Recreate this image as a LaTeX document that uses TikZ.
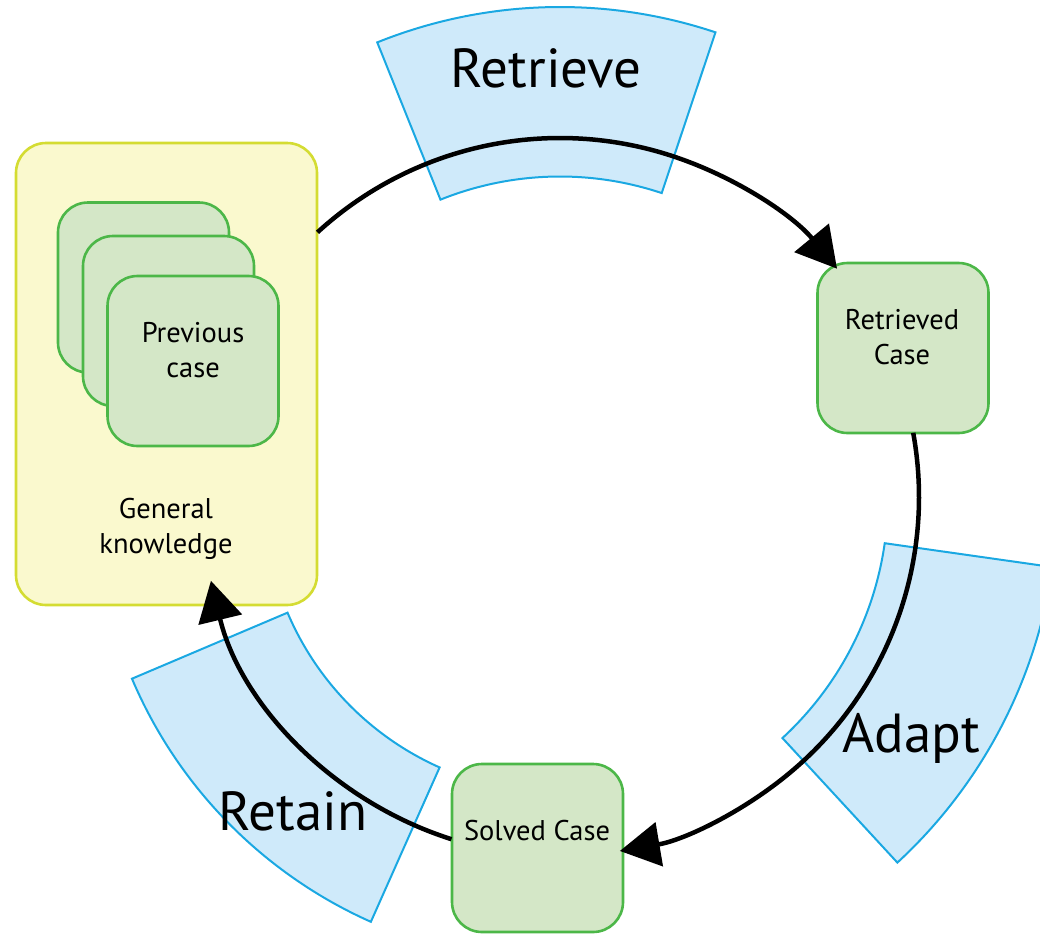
\documentclass[tikz,border=0pt]{standalone}
\usepackage{fontspec}
\setmainfont{PT Sans}
\usetikzlibrary{arrows.meta,calc}
\definecolor{bandfill}{RGB}{207,234,250}
\definecolor{banddraw}{RGB}{26,168,226}
\definecolor{casefill}{RGB}{212,231,199}
\definecolor{casedraw}{RGB}{76,183,72}
\definecolor{gkfill}{RGB}{250,249,206}
\definecolor{gkdraw}{RGB}{212,220,50}
\begin{document}
\begin{tikzpicture}[x=1pt,y=1pt,
  band/.style={fill=bandfill,draw=banddraw,line width=2pt,line join=miter},
  casebox/.style={draw=casedraw,fill=casefill,line width=2.6pt,rounded corners=30pt,
    minimum width=171pt,minimum height=170pt,inner sep=0pt},
  gkbox/.style={draw=gkdraw,fill=gkfill,line width=2.6pt,rounded corners=30pt,
    minimum width=301pt,minimum height=462pt,inner sep=0pt},
  flow/.style={line width=4.5pt,-{Triangle[length=40pt,width=44pt]}},
  biglabel/.style={font=\fontsize{55}{62}\selectfont,anchor=base,inner sep=0pt},
  smalllabel/.style={font=\fontsize{28.5}{34.5}\selectfont,align=center,anchor=base,inner sep=0pt}
]
\useasboundingbox (0,0) rectangle (1040,-934);
\clip (0,0) rectangle (1040,-934);
\coordinate (C) at (560,-497);

% blue bands
\draw[band] ($(C)+(71.5:320.5pt)$) arc[start angle=71.5,end angle=111.9,radius=320.5pt]
  -- ($(C)+(111.9:490pt)$) arc[start angle=111.9,end angle=71.5,radius=490pt] -- cycle;
\draw[band] ($(C)+(-47.3:328pt)$) arc[start angle=-47.3,end angle=-8.1,radius=328pt]
  -- ($(C)+(-8.1:497.5pt)$) arc[start angle=-8.1,end angle=-47.3,radius=497.5pt] -- cycle;
\draw[band] ($(C)+(203:296pt)$) arc[start angle=203,end angle=246,radius=296pt]
  -- ($(C)+(246:465pt)$) arc[start angle=246,end angle=203,radius=465pt] -- cycle;

% boxes
\node[gkbox] (gk) at (166.5,-374) {};
\node[casebox] (pc3) at (143.5,-287.5) {};
\node[casebox] (pc2) at (168.5,-321) {};
\node[casebox] (pc1) at (193,-361) {};
\node[casebox] (rc) at (903,-348) {};
\node[casebox,minimum height=168pt] (sc) at (537.5,-848) {};

% connectors on the cycle
\coordinate (gkout) at ($(C)+(132.5:359pt)$);
\coordinate (rcout) at ($(C)+(10.3:359pt)$);
\coordinate (scout) at ($(C)+(252.4:359pt)$);
\draw[flow] (gkout) arc[start angle=132.5,end angle=39.5,radius=359pt];
\draw[flow] (rcout) arc[start angle=10.3,end angle=-80.4,radius=359pt];
\draw[flow] (scout) arc[start angle=252.4,end angle=193.5,radius=359pt];

% labels
\node[biglabel] (tretrieve) at (546,-87) {Retrieve};
\node[biglabel] (tadapt) at (911,-752) {Adapt};
\node[biglabel] (tretain) at (293,-830) {Retain};
\node[smalllabel] (tpc) at (193,-377) {Previous\\case};
\node[smalllabel] (tgk) at (166,-553) {General\\knowledge};
\node[smalllabel] (trc) at (902,-364) {Retrieved\\Case};
\node[smalllabel] (tsc) at (537,-840) {Solved Case};
\end{tikzpicture}
\end{document}
